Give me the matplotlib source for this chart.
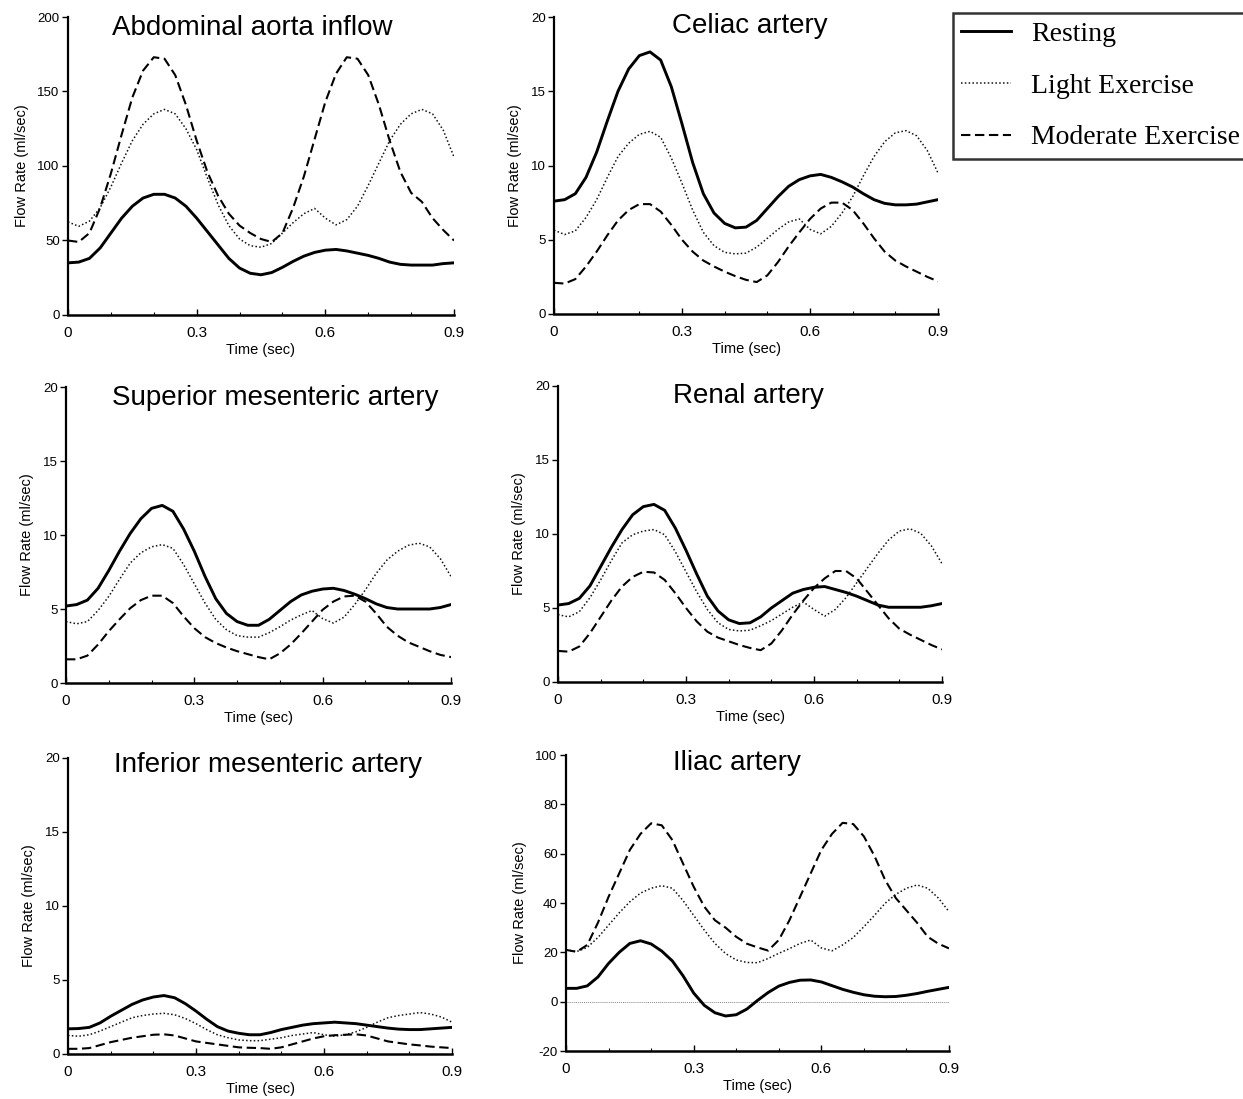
import matplotlib
matplotlib.use("Agg")
import matplotlib.pyplot as plt
from matplotlib.ticker import MultipleLocator

plt.rcParams['font.family'] = ['Liberation Sans', 'DejaVu Sans']
plt.rcParams['axes.unicode_minus'] = False

# ---------------- data ----------------
time_sec = [0.0, 0.025, 0.05, 0.075, 0.1, 0.125, 0.15, 0.175, 0.2, 0.225, 0.25, 0.275,
            0.3, 0.325, 0.35, 0.375, 0.4, 0.425, 0.45, 0.475, 0.5, 0.525, 0.55, 0.575,
            0.6, 0.625, 0.65, 0.675, 0.7, 0.725, 0.75, 0.775, 0.8, 0.825, 0.85, 0.875, 0.9]

aorta_rest = [35, 35.5, 38, 45, 55, 65, 73, 78.5, 81, 81, 78.5, 73, 65, 56, 47, 38, 31.5,
              28, 27, 28.5, 32, 36, 39.5, 42, 43.5, 44, 43, 41.5, 40, 38, 35.5, 34, 33.5,
              33.5, 33.5, 34.5, 35]
aorta_light = [62.5, 59.5, 63, 72, 86, 102, 117, 128, 135, 138, 135, 125, 111, 92, 74, 60,
               51, 46.5, 45.5, 48, 55, 62, 68, 71.5, 65, 60.5, 64, 73, 87, 102, 117, 128,
               135, 138, 135, 124, 106]
aorta_mod = [50, 49, 55, 72, 95, 121, 146, 164, 173, 172, 161, 141, 117, 96, 80, 68, 60,
             55, 51, 49, 55, 72, 93, 118, 143, 162, 173, 172, 161, 141, 117, 96, 82, 76,
             65, 57, 50]

celiac_rest = [7.6, 7.7, 8.1, 9.2, 10.9, 13.0, 15.0, 16.5, 17.4, 17.65, 17.1, 15.3, 12.8,
               10.2, 8.1, 6.8, 6.1, 5.8, 5.85, 6.3, 7.1, 7.9, 8.6, 9.05, 9.3, 9.4, 9.2,
               8.9, 8.55, 8.1, 7.7, 7.45, 7.35, 7.35, 7.4, 7.55, 7.7]
celiac_light = [5.65, 5.35, 5.6, 6.5, 7.7, 9.2, 10.6, 11.5, 12.1, 12.3, 11.9, 10.5, 8.8,
                7.0, 5.5, 4.6, 4.15, 4.05, 4.1, 4.5, 5.1, 5.7, 6.2, 6.4, 5.7, 5.4, 5.9,
                6.8, 7.9, 9.3, 10.6, 11.6, 12.2, 12.35, 12.0, 11.0, 9.5]
celiac_mod = [2.1, 2.05, 2.35, 3.2, 4.2, 5.3, 6.3, 7.0, 7.4, 7.4, 6.9, 6.0, 5.0, 4.2, 3.6,
              3.2, 2.85, 2.55, 2.3, 2.15, 2.6, 3.5, 4.55, 5.5, 6.4, 7.1, 7.5, 7.5, 7.0,
              6.1, 5.1, 4.2, 3.6, 3.2, 2.85, 2.5, 2.2]

sma_rest = [5.2, 5.3, 5.6, 6.4, 7.6, 8.9, 10.1, 11.1, 11.8, 12.0, 11.6, 10.4, 8.9, 7.2,
            5.7, 4.7, 4.15, 3.9, 3.9, 4.3, 4.9, 5.5, 5.95, 6.2, 6.35, 6.4, 6.25, 6.0,
            5.7, 5.35, 5.1, 5.0, 5.0, 5.0, 5.0, 5.1, 5.3]
sma_light = [4.15, 4.0, 4.15, 4.9, 5.85, 7.0, 8.1, 8.8, 9.2, 9.35, 9.1, 8.0, 6.7, 5.4,
             4.3, 3.6, 3.2, 3.1, 3.1, 3.4, 3.8, 4.25, 4.6, 4.9, 4.35, 4.05, 4.45, 5.3,
             6.3, 7.4, 8.3, 8.9, 9.3, 9.45, 9.2, 8.4, 7.2]
sma_mod = [1.6, 1.6, 1.85, 2.6, 3.5, 4.3, 5.05, 5.6, 5.9, 5.9, 5.4, 4.5, 3.7, 3.1, 2.7,
           2.4, 2.15, 1.95, 1.75, 1.6, 2.0, 2.6, 3.35, 4.15, 4.95, 5.5, 5.85, 5.9, 5.5,
           4.7, 3.8, 3.2, 2.75, 2.45, 2.15, 1.9, 1.75]

renal_rest = [5.2, 5.3, 5.65, 6.5, 7.8, 9.1, 10.3, 11.3, 11.85, 12.0, 11.6, 10.4, 8.9,
              7.3, 5.8, 4.8, 4.2, 3.95, 4.0, 4.4, 5.0, 5.5, 6.0, 6.25, 6.4, 6.45, 6.25,
              6.05, 5.8, 5.5, 5.2, 5.05, 5.05, 5.05, 5.05, 5.15, 5.3]
renal_light = [4.55, 4.4, 4.75, 5.7, 6.9, 8.2, 9.4, 9.95, 10.2, 10.3, 9.95, 8.8, 7.45,
               6.1, 4.9, 4.0, 3.55, 3.45, 3.5, 3.8, 4.15, 4.6, 5.05, 5.4, 4.9, 4.45, 4.9,
               5.7, 6.7, 7.7, 8.7, 9.6, 10.2, 10.35, 10.05, 9.2, 8.0]
renal_mod = [2.1, 2.05, 2.4, 3.3, 4.4, 5.5, 6.45, 7.1, 7.45, 7.4, 6.9, 6.0, 5.0, 4.1,
             3.4, 3.0, 2.75, 2.5, 2.3, 2.15, 2.6, 3.5, 4.55, 5.5, 6.35, 7.0, 7.5, 7.5,
             7.0, 6.1, 5.2, 4.3, 3.6, 3.2, 2.85, 2.5, 2.2]

ima_rest = [1.7, 1.72, 1.8, 2.1, 2.55, 2.95, 3.35, 3.65, 3.85, 3.95, 3.8, 3.4, 2.9, 2.35,
            1.85, 1.55, 1.4, 1.3, 1.3, 1.45, 1.65, 1.8, 1.95, 2.05, 2.1, 2.15, 2.1, 2.05,
            1.95, 1.85, 1.75, 1.68, 1.65, 1.65, 1.7, 1.75, 1.8]
ima_light = [1.25, 1.2, 1.3, 1.55, 1.85, 2.15, 2.45, 2.6, 2.7, 2.75, 2.65, 2.4, 2.05,
             1.65, 1.3, 1.1, 0.95, 0.9, 0.9, 1.0, 1.1, 1.25, 1.35, 1.45, 1.3, 1.2, 1.3,
             1.5, 1.8, 2.15, 2.45, 2.6, 2.7, 2.8, 2.7, 2.5, 2.15]
ima_mod = [0.35, 0.35, 0.4, 0.6, 0.8, 0.95, 1.1, 1.2, 1.3, 1.33, 1.25, 1.05, 0.85, 0.75,
           0.65, 0.55, 0.45, 0.42, 0.4, 0.35, 0.45, 0.65, 0.85, 1.05, 1.2, 1.27, 1.3,
           1.33, 1.25, 1.05, 0.85, 0.75, 0.65, 0.58, 0.5, 0.45, 0.4]

iliac_rest = [5.4, 5.4, 6.4, 10, 15.5, 20, 23.6, 24.7, 23.4, 20.5, 16.5, 10.5, 3.5, -1.5,
              -4.5, -5.8, -5.3, -3.0, 0.5, 3.7, 6.3, 7.8, 8.7, 8.8, 8.0, 6.5, 5.0, 3.8,
              2.8, 2.2, 2.0, 2.1, 2.6, 3.3, 4.2, 5.0, 5.8]
iliac_light = [21, 20.3, 22, 26, 31, 36, 40.5, 44, 46, 47, 46, 41, 35, 29, 23.6, 19.5,
               16.9, 15.9, 15.8, 17.5, 19.6, 21.5, 23.6, 25, 21.8, 20.6, 23, 26, 30.4, 35,
               39.9, 43.5, 46, 47.3, 46, 42, 36.5]
iliac_mod = [21, 20.2, 23, 32, 42.5, 52, 61.5, 68, 72.3, 71.5, 65.5, 56, 46.6, 38.5, 33,
             30, 26.3, 23.5, 22, 20.7, 25, 33, 42.5, 52, 61.5, 68, 72.5, 72, 67, 59, 49.3,
             42, 37, 32, 26.3, 23.5, 21.6]

titles = ["Abdominal aorta inflow", "Celiac artery", "Superior mesenteric artery",
          "Renal artery", "Inferior mesenteric artery", "Iliac artery"]
legend_labels = ["Resting", "Light Exercise", "Moderate Exercise"]
x_ticks = [0, 0.3, 0.6, 0.9]
x_ticklabels = ["0", "0.3", "0.6", "0.9"]
y_limits = [(0, 200), (0, 20), (0, 20), (0, 20), (0, 20), (-20, 100)]
y_steps = [50, 5, 5, 5, 5, 20]

panels = [
    (aorta_rest, aorta_light, aorta_mod),
    (celiac_rest, celiac_light, celiac_mod),
    (sma_rest, sma_light, sma_mod),
    (renal_rest, renal_light, renal_mod),
    (ima_rest, ima_light, ima_mod),
    (iliac_rest, iliac_light, iliac_mod),
]

# ---------------- layout ----------------
W, H = 1243, 1099
fig = plt.figure(figsize=(W / 100, H / 100), dpi=100)

# pixel boxes: left, right, top, bottom
boxes = [(68, 454, 17, 315), (554, 938, 17, 314),
         (66, 451, 387, 683), (558, 942, 386, 682),
         (68, 452, 758, 1054), (566, 949, 755, 1051)]
title_x = [0.477, 0.51, 0.543, 0.495, 0.52, 0.446]
title_y = [0.940, 0.946, 0.939, 0.943, 0.953, 0.950]

lines_for_legend = None
for i, ((l, r, t, b), (rest, light, mod)) in enumerate(zip(boxes, panels)):
    ax = fig.add_axes([l / W, 1 - b / H, (r - l) / W, (b - t) / H])
    if i == 5:
        ax.plot([0, 0.9], [0, 0], color='#888888', lw=0.7, ls=(0, (1, 1)))
    h1, = ax.plot(time_sec, rest, color='black', lw=2.1, solid_joinstyle='round')
    h2, = ax.plot(time_sec, light, color='#111111', lw=1.1, ls=(0, (1, 1.5)))
    h3, = ax.plot(time_sec, mod, color='black', lw=1.5, ls=(0, (4.5, 2.2)))
    if lines_for_legend is None:
        lines_for_legend = [h1, h2, h3]
    ax.set_xlim(0, 0.9)
    ax.set_ylim(*y_limits[i])
    ax.set_xticks(x_ticks)
    ax.set_xticklabels(x_ticklabels)
    ax.xaxis.set_minor_locator(MultipleLocator(0.1))
    ax.yaxis.set_major_locator(MultipleLocator(y_steps[i]))
    for s in ('top', 'right'):
        ax.spines[s].set_visible(False)
    ax.spines['left'].set_linewidth(1.6)
    ax.spines['bottom'].set_linewidth(1.8)
    ax.tick_params(axis='x', which='major', direction='in', length=4, width=1,
                   labelsize=11, pad=8)
    ax.tick_params(axis='x', which='minor', direction='in', length=2.5, width=0.8)
    ax.tick_params(axis='y', which='major', direction='out', length=4, width=1,
                   labelsize=9.5, pad=2)
    ax.set_xlabel("Time (sec)", fontsize=10.5, labelpad=2)
    ax.set_ylabel("Flow Rate (ml/sec)", fontsize=10.5, labelpad=6)
    ax.text(title_x[i], title_y[i], titles[i], transform=ax.transAxes, ha='center',
            va='baseline', fontsize=20)

leg = fig.legend(lines_for_legend, legend_labels, loc='upper left',
                 bbox_to_anchor=(953 / W, 1 - 13 / H), bbox_transform=fig.transFigure,
                 prop={'family': 'Liberation Serif', 'size': 20},
                 frameon=True, fancybox=False, edgecolor='black', borderpad=0.3,
                 labelspacing=0.95, handlelength=1.8, handletextpad=0.7,
                 borderaxespad=0)
leg.get_frame().set_linewidth(1.8)

fig.savefig("out.png", dpi=100)
